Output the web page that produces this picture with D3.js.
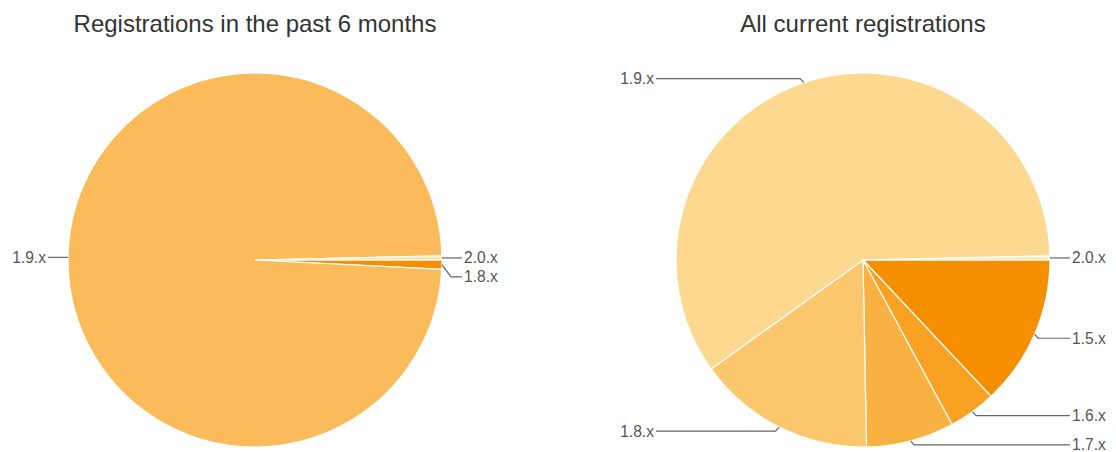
<!DOCTYPE html>
<html>
<head>
<meta charset="utf-8">
<script src="https://cdn.jsdelivr.net/npm/d3@7"></script>
<style>
  body { margin: 0; background: #fff; }
  svg { display: block; font-family: "Liberation Sans", Arial, sans-serif; }
</style>
</head>
<body>
<svg id="chart_svg" width="1116" height="452"></svg>
<script>
// versions, ordered clockwise starting from 3 o'clock
const versions = ["1.5.x", "1.6.x", "1.7.x", "1.8.x", "1.9.x", "2.0.x"];

// percentages
const recentShare = [0, 0, 0, 0.8, 98.85, 0.35];
const currentShare = [13.0, 4.1, 7.6, 15.4, 59.55, 0.35];

const recentColors = ["#f68f00", "#f8a123", "#f9b142", "#f68f00", "#fbbb5a", "#fde3b0"];
const currentColors = ["#f68f00", "#f8a123", "#f9b142", "#fcc66c", "#fdd890", "#fee8bd"];

const titles = ["Registrations in the past 6 months", "All current registrations"];

const svg = d3.select("#chart_svg");
const radius = 187;

function draw_pie(g_id, title, values, colors, cx, cy) {
  let g = svg.append("g").attr("id", g_id);

  g.append("text")
    .attr("x", cx)
    .attr("y", 32)
    .attr("text-anchor", "middle")
    .attr("font-size", 24)
    .attr("fill", "#333")
    .text(title);

  let data = versions.map((v, i) => ({ name: v, value: values[i], color: colors[i] }))
    .filter(d => d.value > 0);

  const pie = d3.pie()
    .value(d => d.value)
    .sort(null)
    .startAngle(Math.PI / 2)
    .endAngle(Math.PI / 2 + 2 * Math.PI);

  const arc = d3.arc().innerRadius(0).outerRadius(radius);
  const arcs = pie(data);

  let g_pie = g.append("g").attr("transform", "translate(" + cx + "," + cy + ")");

  g_pie.selectAll(".slice")
    .data(arcs)
    .enter()
    .append("path")
    .attr("class", "slice")
    .attr("d", arc)
    .attr("fill", d => d.data.color)
    .attr("stroke", "#fff")
    .attr("stroke-width", 1.2);

  // label anchors at the middle of each slice's outer edge
  let labels = arcs.map(d => {
    let a = (d.startAngle + d.endAngle) / 2;
    let x = Math.sin(a) * radius;
    let y = -Math.cos(a) * radius;
    let side = x >= 0 ? 1 : -1;
    let ly = y + (y >= 0 ? 4 : -4);
    if (Math.abs(y) < 20) ly = y;
    return { name: d.data.name, ax: x, ay: y, side: side, ly: ly };
  });

  // push overlapping labels apart on each side
  [1, -1].forEach(side => {
    let list = labels.filter(l => l.side === side).sort((a, b) => a.ly - b.ly);
    for (let i = 1; i < list.length; i++) {
      if (list[i].ly - list[i - 1].ly < 19) list[i].ly = list[i - 1].ly + 19;
    }
  });

  labels.forEach(l => {
    let dy = Math.abs(l.ly - l.ay);
    let ex = l.ax + l.side * Math.min(dy, 10) * 0.9;
    let endX = l.side * (radius + 20);
    g_pie.append("polyline")
      .attr("points", [[l.ax, l.ay], [ex, l.ly], [endX, l.ly]].map(p => p.join(",")).join(" "))
      .attr("fill", "none")
      .attr("stroke", "#666")
      .attr("stroke-width", 1.2);

    g_pie.append("text")
      .attr("x", l.side * (radius + 22))
      .attr("y", l.ly)
      .attr("dy", "0.35em")
      .attr("text-anchor", l.side > 0 ? "start" : "end")
      .attr("font-size", 15.6)
      .attr("fill", "#555")
      .text(l.name);
  });
}

draw_pie("g_recent", titles[0], recentShare, recentColors, 255, 260);
draw_pie("g_current", titles[1], currentShare, currentColors, 863, 260);
</script>
</body>
</html>
